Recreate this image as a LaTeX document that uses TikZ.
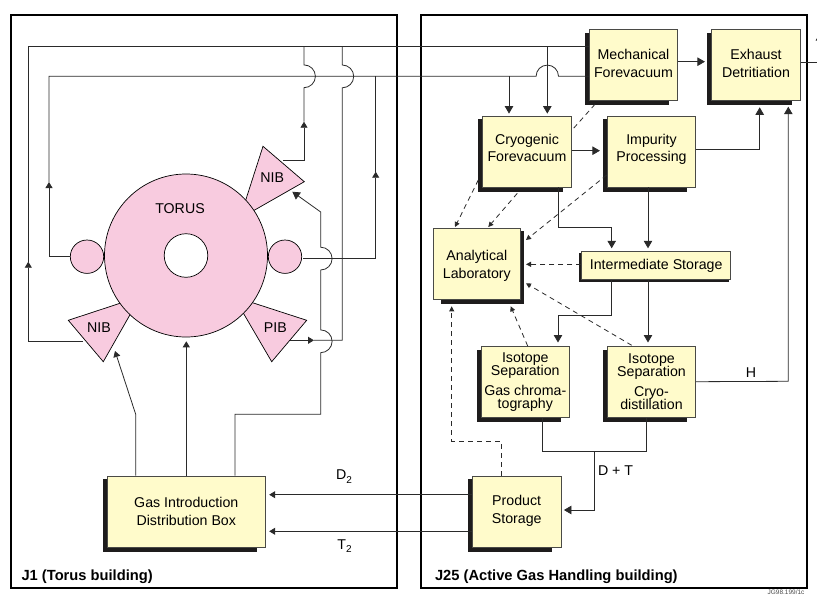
\documentclass[tikz,border=0pt]{standalone}
\usepackage{fontspec}
\setmainfont{Liberation Sans}
\usetikzlibrary{arrows.meta,backgrounds}
\definecolor{boxyellow}{HTML}{FFFBCB}
\definecolor{toruspink}{HTML}{F8CBDF}
\definecolor{boxedge}{HTML}{4A4A46}
\definecolor{shadowblack}{HTML}{1E1C1C}
\definecolor{leadgrey}{HTML}{2A2A2A}
\newcommand{\hopup}{arc[start angle=-90,end angle=90,radius=11.4pt]}
\newcommand{\hopdown}{arc[start angle=90,end angle=-90,radius=11.4pt]}
\newcommand{\lowtwo}{\raisebox{-3.5pt}{\fontsize{10}{10}\selectfont 2}}
\tikzset{
  plant/.style={draw=boxedge, fill=boxyellow, line width=0.8pt, inner sep=0pt,
    minimum width=88.4pt, minimum height=71pt, align=center,
    font=\fontsize{14.2}{17.5}\selectfont},
  building/.style={draw=black, line width=2pt},
  pinkpart/.style={draw=black, fill=toruspink, line width=0.7pt},
  lead/.style={draw=leadgrey, line width=0.8pt},
  tiny tip/.style={lead, -{Triangle[length=6pt,width=7pt]}},
  big tip/.style={lead, -{Triangle[length=7.5pt,width=8.5pt]}},
  dash lead/.style={lead, dash pattern=on 5pt off 4pt, -{Triangle[length=5pt,width=5pt]}},
  lab/.style={font=\fontsize{14.2}{17.5}\selectfont},
  title/.style={anchor=west, font=\fontsize{14.7}{17}\selectfont\bfseries}
}
\begin{document}
\begin{tikzpicture}[x=1pt,y=-1pt]
  \useasboundingbox (0,0) rectangle (817,597);
  % buildings
  \draw[building] (10.8,14.5) rectangle (396.5,588);
  \draw[building] (421,14.5) rectangle (806.7,588);
  \node[title] (jone) at (18,576.3) {J1 (Torus building)};
  \node[title] (jtwofive) at (431.5,576.3) {J25 (Active Gas Handling building)};
  % torus and injectors
  \coordinate (nibTa) at (263,146.3);
  \coordinate (nibTb) at (304.3,181.7);
  \coordinate (nibTc) at (239.8,218.5);
  \coordinate (nibLa) at (68.3,320.3);
  \coordinate (nibLb) at (103.3,361.7);
  \coordinate (nibLc) at (140.3,296.6);
  \coordinate (pibRa) at (306.7,320.3);
  \coordinate (pibRb) at (271.7,361.7);
  \coordinate (pibRc) at (233.7,296.6);
  \draw[pinkpart] (nibTa) -- (nibTb) -- (nibTc) -- cycle;
  \draw[pinkpart] (nibLa) -- (nibLb) -- (nibLc) -- cycle;
  \draw[pinkpart] (pibRa) -- (pibRb) -- (pibRc) -- cycle;
  \node[pinkpart, circle, minimum size=163pt, inner sep=0pt] (torus) at (186,255.5) {};
  \node[draw=black, fill=white, line width=0.7pt, circle, minimum size=43.6pt, inner sep=0pt] (hole) at (186,255.5) {};
  \node[pinkpart, circle, minimum size=33.4pt, inner sep=0pt] (portL) at (87,256.7) {};
  \node[pinkpart, circle, minimum size=33.4pt, inner sep=0pt] (portR) at (285,256.7) {};
  \node[lab] (toruslab) at (180,209) {TORUS};
  \node[lab] (nibT) at (272.3,178) {NIB};
  \node[lab] (nibL) at (99,327.7) {NIB};
  \node[lab] (pibR) at (275.3,327.7) {PIB};
  % plant boxes
  \node[plant, minimum width=158pt] (gas) at (186.3,511.5) {Gas Introduction\\Distribution Box};
  \node[plant, text depth=3pt] (mech) at (633.5,64.8) {Mechanical\\Forevacuum};
  \node[plant, text depth=2.6pt] (exh) at (756,64.8) {Exhaust\\Detritiation};
  \node[plant, text depth=7pt] (cryo) at (527,151.5) {Cryogenic\\Forevacuum};
  \node[plant, text depth=7pt] (imp) at (651.5,151.5) {Impurity\\Processing};
  \node[plant, minimum width=87.7pt, text depth=0pt] (anal) at (476.85,264.35) {Analytical\\Laboratory};
  \node[plant, minimum width=149pt, minimum height=27.6pt] (inter) at (656.2,265.5) {Intermediate Storage};
  \node[plant] (isogc) at (525.3,381.7) {Isotope\\[-4.5pt]Separation\\[2.5pt]Gas chroma-\\[-4.5pt]tography};
  \node[plant] (isocry) at (651.5,381.7) {Isotope\\[-4.5pt]Separation\\[2.5pt]Cryo-\\[-4.5pt]distillation};
  \node[plant, text depth=4pt] (prod) at (516.7,511.5) {Product\\Storage};
  \begin{scope}[on background layer]
    \foreach \boxname in {gas,mech,exh,cryo,imp,isogc,isocry,prod}
      \fill[shadowblack] ([shift={(-4pt,-3.7pt)}]\boxname.north west) rectangle ([shift={(-9pt,-4.3pt)}]\boxname.south east);
    \fill[shadowblack] ([shift={(-2.7pt,-2pt)}]inter.north west) rectangle ([shift={(-1.7pt,-2.4pt)}]inter.south east);
    \fill[shadowblack] ([shift={(8pt,-3pt)}]anal.north west) rectangle ([shift={(3pt,-4pt)}]anal.south east);
  \end{scope}
  % vacuum rails from the torus hall
  \coordinate (railAtip) at (28.3,261.7);
  \coordinate (nibLout) at (83,341);
  \coordinate (railBtip) at (49,182);
  \draw[tiny tip] (nibLout) -| (railAtip);
  \draw[lead] (railAtip) |- ([yshift=18.1pt]mech.west);
  \draw[tiny tip] (portL.west) -| (railBtip);
  \coordinate (hopB) at (536.1,76.3);
  \draw[lead] (railBtip) |- (hopB) arc[start angle=180,end angle=0,radius=11.2pt] -- ([yshift=-11.5pt]mech.west);
  % upper NIB up to rail A
  \coordinate (nibTout) at (283.3,160.7);
  \coordinate (nibTtip) at (304,121.7);
  \coordinate (nibThop) at (304,87.7);
  \coordinate (railAone) at (304,46.7);
  \draw[tiny tip] (nibTout) -| (nibTtip);
  \draw[lead] (nibTtip) -- (nibThop) \hopup -- (railAone);
  % PIB up to rail A
  \coordinate (railAtwo) at (342.3,46.7);
  \coordinate (pibHop) at (342.3,65);
  \coordinate (pibBend) at (342.3,340.3);
  \coordinate (pibOut) at (290,340.3);
  \coordinate (pibTip) at (314,340.3);
  \draw[lead] (railAtwo) -- (pibHop) \hopdown -- (pibBend) -- (pibTip);
  \draw[tiny tip] (pibOut) -- (pibTip);
  % right port up to rail B
  \coordinate (railBone) at (375.7,76.3);
  \coordinate (portRtip) at (375.7,171.7);
  \coordinate (portRbend) at (375.7,258.7);
  \coordinate (portRout) at (303,258.7);
  \draw[tiny tip] (portRout) -- (portRbend) -- (portRtip);
  \draw[lead] (portRtip) -- (railBone);
  % gas feeds
  \coordinate (feedLbend) at (135.7,414.3);
  \coordinate (feedLtip) at (115,351);
  \draw[tiny tip] ([xshift=-50.6pt]gas.north) -- (feedLbend) -- (feedLtip);
  \coordinate (feedMtip) at (186.3,341.3);
  \draw[tiny tip] (gas.north) -- (feedMtip);
  \coordinate (feedRbend) at (320.7,414.3);
  \coordinate (feedRhopa) at (320.7,352.7);
  \coordinate (feedRhopb) at (320.7,270);
  \coordinate (feedRkink) at (320.7,212);
  \coordinate (feedRtip) at (292.3,191.7);
  \draw[big tip] ([xshift=48.7pt]gas.north) |- (feedRbend) -- (feedRhopa) \hopup -- (feedRhopb) \hopup -- (feedRkink) -- (feedRtip);
  % product to gas box
  \draw[tiny tip, shorten >=3.5pt] ([yshift=16.8pt]prod.west) -- ([yshift=16.8pt]gas.east);
  \draw[tiny tip, shorten >=3.5pt] ([yshift=-19.8pt]prod.west) -- ([yshift=-19.8pt]gas.east);
  \node[lab] (dtwo) at (344,476.5) {D\lowtwo};
  \node[lab] (ttwo) at (344.5,546) {T\lowtwo};
  % plant connections
  \draw[big tip, shorten >=6.5pt] ([yshift=3.1pt]mech.east) -- ([yshift=3.1pt]exh.west);
  \coordinate (exhBend) at (820,62.3);
  \coordinate (exhTip) at (820,33);
  \draw[big tip] ([yshift=2.5pt]exh.east) -- (exhBend) -- (exhTip);
  \coordinate (railAthree) at (547.3,46.7);
  \coordinate (railBthree) at (509,76.3);
  \draw[big tip, shorten >=2pt] (railAthree) -- ([xshift=20.3pt]cryo.north);
  \draw[big tip, shorten >=2pt] (railBthree) -- ([xshift=-18pt]cryo.north);
  \draw[big tip, shorten >=7pt] ([yshift=0.8pt]cryo.east) -- ([yshift=0.8pt]imp.west);
  \coordinate (impBend) at (759.7,149.3);
  \coordinate (impTip) at (759.7,107.3);
  \draw[big tip] ([yshift=2.2pt]imp.east) -- (impBend) -- (impTip);
  \coordinate (hBend) at (788.3,381.3);
  \coordinate (hTip) at (788.3,106.7);
  \draw[big tip] (isocry.east) -- (hBend) -- (hTip);
  \node[lab] (hlab) at (751,373) {H};
  \coordinate (cryoBendA) at (558,227.3);
  \coordinate (cryoBendB) at (611.7,227.3);
  \draw[big tip, shorten >=3pt] ([xshift=31pt]cryo.south) -- (cryoBendA) -- (cryoBendB) -- ([xshift=-44.5pt]inter.north);
  \draw[big tip, shorten >=3pt] ([xshift=-3.5pt]imp.south) -- ([xshift=-8.2pt]inter.north);
  \coordinate (interBendA) at (611.7,315.3);
  \coordinate (interBendB) at (558,315.3);
  \draw[big tip, shorten >=3.3pt] ([xshift=-44.5pt]inter.south) -- (interBendA) -- (interBendB) -- ([xshift=32.7pt]isogc.north);
  \draw[big tip, shorten >=3.3pt] ([xshift=-8.2pt]inter.south) -- ([xshift=-3.5pt]isocry.north);
  \coordinate (dtBendA) at (542.3,451);
  \coordinate (dtBendB) at (646.7,451);
  \coordinate (dtJoin) at (594.3,451);
  \coordinate (dtBendC) at (594.3,510);
  \draw[lead] ([xshift=17pt]isogc.south) -- (dtBendA) -- (dtBendB) -- ([xshift=-4.8pt]isocry.south);
  \draw[big tip, shorten >=2.6pt] (dtJoin) -- (dtBendC) -- ([yshift=1.5pt]prod.east);
  \node[lab, anchor=west] (dtlab) at (594.5,471) {D + T};
  % sampling lines to the laboratory
  \coordinate (mechDash) at (595,104.3);
  \draw[lead, dash pattern=on 5pt off 4pt] (mechDash) -- ([yshift=21pt]cryo.east);
  \coordinate (cryoDashA) at (478.3,180);
  \coordinate (labTipA) at (455,227);
  \draw[dash lead] (cryoDashA) -- (labTipA);
  \coordinate (cryoDashB) at (517.3,193.3);
  \coordinate (labTipB) at (488.3,227);
  \draw[dash lead] (cryoDashB) -- (labTipB);
  \coordinate (impDash) at (606.7,175);
  \coordinate (labTipC) at (526,240);
  \draw[dash lead] (impDash) -- (labTipC);
  \coordinate (labTipD) at (526,264.3);
  \draw[dash lead] (inter.west |- labTipD) -- (labTipD);
  \coordinate (isoDashA) at (631.7,345.3);
  \coordinate (labTipE) at (526,283.3);
  \draw[dash lead] (isoDashA) -- (labTipE);
  \coordinate (isoDashB) at (527.7,346);
  \coordinate (labTipF) at (510.7,306.3);
  \draw[dash lead] (isoDashB) -- (labTipF);
  \coordinate (prodBendA) at (501.3,441);
  \coordinate (prodBendB) at (451.7,441);
  \coordinate (labTipG) at (451.7,306.3);
  \draw[dash lead] ([xshift=-15.4pt]prod.north) -- (prodBendA) -- (prodBendB) -- (labTipG);
  % drawing number
  \node[font=\fontsize{6.5}{7}\selectfont, text=black!70, anchor=east] (refno) at (808,592.6) {JG98.199/1c};
\end{tikzpicture}
\end{document}
